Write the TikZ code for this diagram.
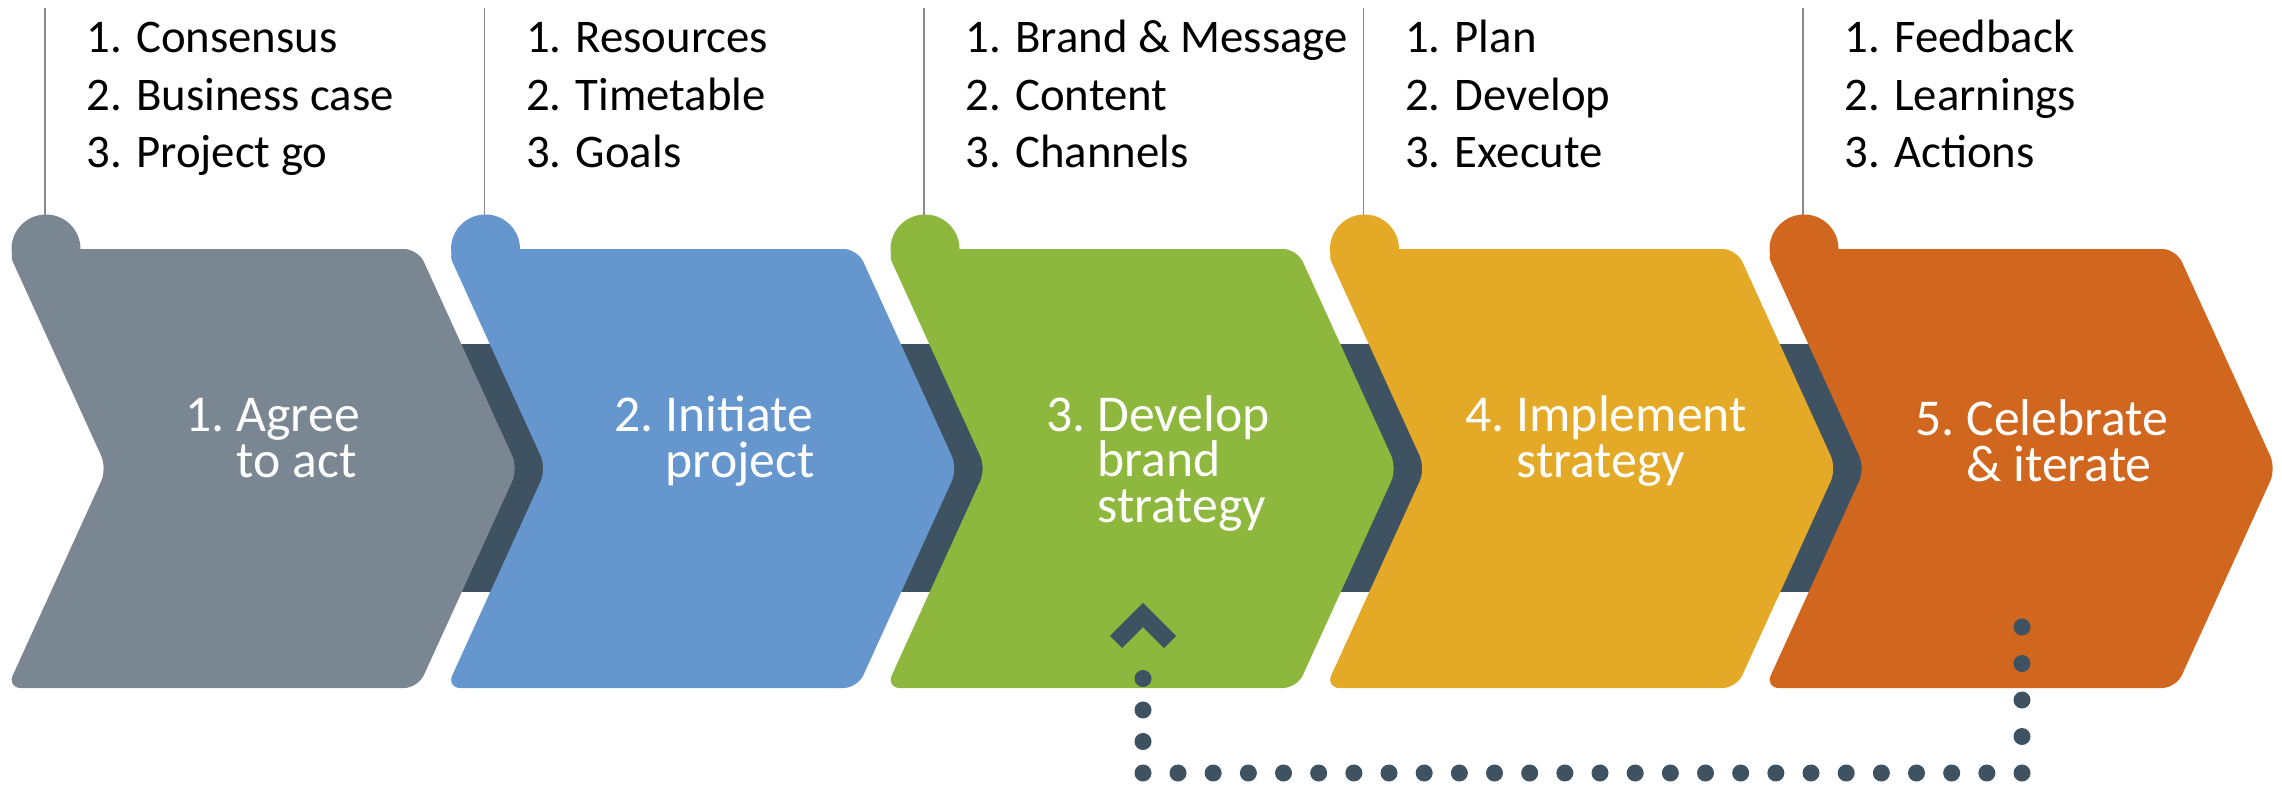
\documentclass[tikz,border=0pt]{standalone}
\usepackage{fontspec}
\setmainfont{Carlito}
\usepackage{xcolor}
\usetikzlibrary{arrows.meta}
\definecolor{stepgray}{HTML}{7A8792}
\definecolor{stepblue}{HTML}{6596CE}
\definecolor{stepgreen}{HTML}{8DB73D}
\definecolor{stepyellow}{HTML}{E3A927}
\definecolor{steporange}{HTML}{D1671F}
\definecolor{slate}{HTML}{3E5262}
\definecolor{hangline}{HTML}{8A8A8A}

\tikzset{
    steptext/.style={anchor=base west, align=left, inner sep=0pt, text=white,
        font=\fontsize{14.7}{12.8}\selectfont},
    listtext/.style={anchor=base west, align=left, inner sep=0pt,
        font=\fontsize{13.3}{16.36}\selectfont},
    hanger/.style={draw=hangline, line width=0.5pt},
    loopdots/.style={draw=slate, line width=4.84pt, line cap=round},
    loophead/.style={draw=slate, line width=4.84pt, miter limit=10},
}

\begin{document}
\begin{tikzpicture}[x=0.01cm, y=-0.01cm]
    \useasboundingbox (0,0) rectangle (2282,785);

    % band running behind the steps
    \fill[slate] (300,344) rectangle (2000,592);

    \def\stepshape#1#2{%
        \fill[#2, rounded corners=4pt, shift={(#1,0)}] (7,249) -- (418,249) -- (518,468.5)
            -- (418,688) -- (7,688) -- (107,468.5) -- cycle;
        \fill[#2] (#1+46,249) circle (34.5);
        \draw[hanger] (#1+45,8) -- (#1+45,215);}

    \stepshape{0}{stepgray}
    \stepshape{439.5}{stepblue}
    \stepshape{879}{stepgreen}
    \stepshape{1318.5}{stepyellow}
    \stepshape{1758}{steporange}

    % (base = last line)
    \node[steptext] (agree) at (185,477) {1.\ Agree\\\hphantom{1.\ }to act};
    \node[steptext] (initiate) at (614,477) {2.\ Initiate\\\hphantom{2.\ }project};
    \node[steptext] (develop) at (1046,522) {3.\ Develop\\\hphantom{3.\ }brand\\\hphantom{3.\ }strategy};
    \node[steptext] (implement) at (1465,477) {4.\ Implement\\\hphantom{4.\ }strategy};
    \node[steptext] (celebrate) at (1915,481) {5.\ Celebrate\\\hphantom{5.\ }\&~iterate};

    \node[listtext] (agreelist) at (86,168) {1. Consensus\\2. Business case\\3. Project go};
    \node[listtext] (initiatelist) at (525.5,168) {1. Resources\\2. Timetable\\3. Goals};
    \node[listtext] (developlist) at (965,168) {1. Brand \& Message\\2. Content\\3. Channels};
    \node[listtext] (implementlist) at (1404.5,168) {1. Plan\\2. Develop\\3. Execute};
    \node[listtext] (celebratelist) at (1844,168) {1. Feedback\\2. Learnings\\3. Actions};

    % loop back from step 5 to step 3
    \coordinate (loopstart) at (2022,627);
    \coordinate (loopcorner) at (2022,773);
    \coordinate (loopback) at (1143,773);
    \coordinate (loopend) at (1143,647);
    \draw[loopdots, dash pattern=on 0pt off 10.38pt] (loopstart) -- (loopcorner);
    \draw[loopdots, dash pattern=on 0pt off 10pt] (loopcorner) -- (loopback);
    \draw[loopdots, dash pattern=on 0pt off 8.96pt] (loopback) -- (loopend);
    \draw[loophead] (loopend) ++(-27,-5) -- ++(27,-27) -- ++(27,27);
\end{tikzpicture}
\end{document}
